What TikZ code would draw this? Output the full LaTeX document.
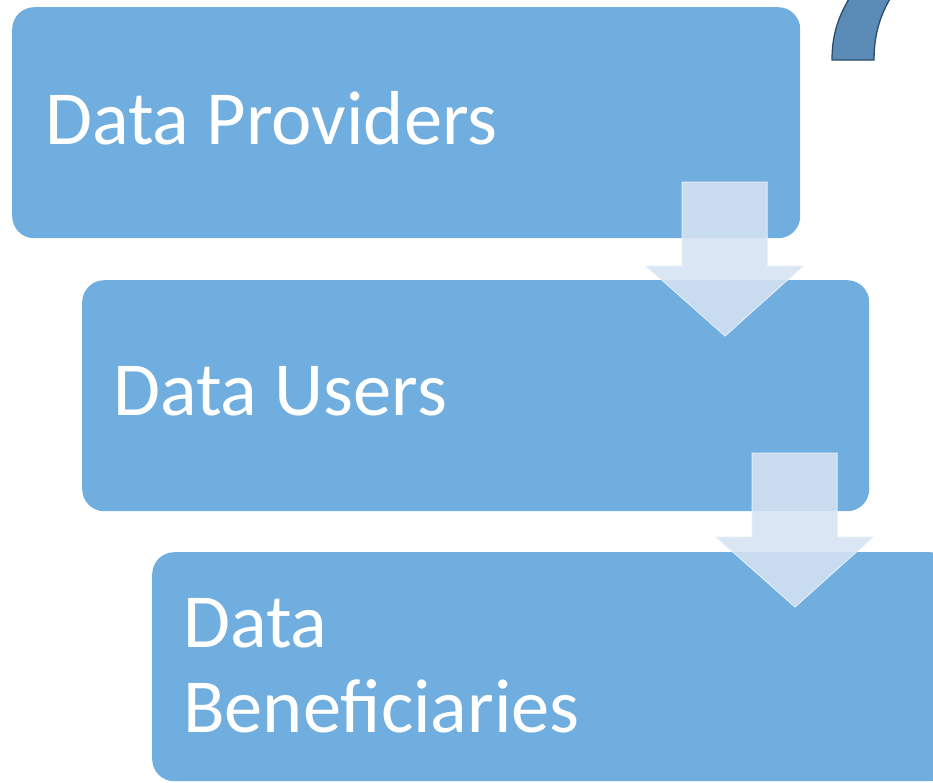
\documentclass[tikz,border=0pt]{standalone}
\usepackage{fontspec}
\setmainfont{Carlito}
\definecolor{boxblue}{RGB}{112,174,223}
\definecolor{arrowfill}{RGB}{214,227,242}
\definecolor{arrowedge}{RGB}{226,236,247}
\definecolor{qfill}{RGB}{89,139,182}
\definecolor{qedge}{RGB}{44,76,106}
\tikzset{
  stagebox/.style={fill=boxblue, draw=none, rounded corners=22pt, anchor=north west, inner sep=0pt},
  stagetext/.style={text=white, font=\fontsize{76.5}{85}\selectfont, anchor=base west, inner sep=0pt, align=left},
  downarrow/.style={fill=arrowfill, fill opacity=0.88, draw=arrowedge, line width=1pt},
}
\begin{document}
\begin{tikzpicture}[x=1pt,y=-1pt]
\useasboundingbox (0,0) rectangle (933,782);
\clip (0,0) rectangle (933,782);
% boxes
\node[stagebox, minimum width=788pt, minimum height=231pt] (b1) at (12,7) {};
\node[stagebox, minimum width=787pt, minimum height=231pt] (b2) at (82,280) {};
\node[stagebox, minimum width=800pt, minimum height=229pt] (b3) at (152,552) {};
% texts
\node[stagetext] (t1) at (45,144) {Data Providers};
\node[stagetext] (t2) at (113,415) {Data Users};
\node[stagetext] (t3) at (183,732) {Data\\Beneficiaries};
% arrows
\draw[downarrow] (682,182) -- (767,182) -- (767,266) -- (803,266) -- (725,336) -- (646,266) -- (682,266) -- cycle;
\draw[downarrow] (752,453) -- (837,453) -- (837,537) -- (873,537) -- (795,607) -- (716,537) -- (752,537) -- cycle;
% question mark fragment
\draw[fill=qfill, draw=qedge, line width=1.3pt]
  (832,60) -- (874,60) .. controls (874,35) and (880,14) .. (893,-6)
  -- (852,-6) .. controls (838,16) and (832,35) .. cycle;
\end{tikzpicture}
\end{document}
